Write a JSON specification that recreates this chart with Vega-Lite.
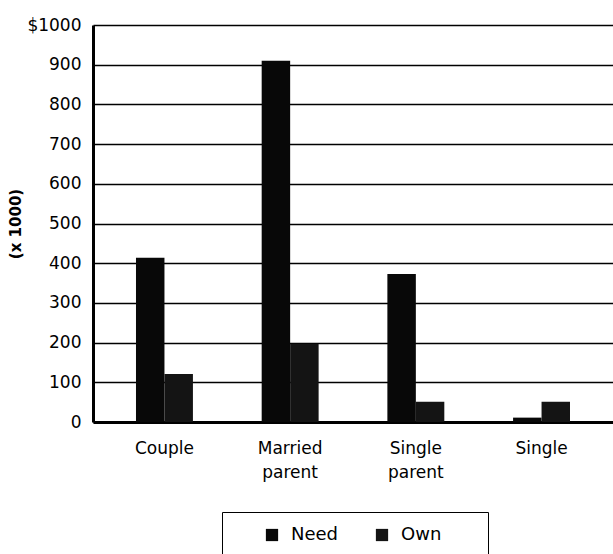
{
  "$schema": "https://vega.github.io/schema/vega-lite/v6.json",
  "width": 520,
  "height": 397,
  "autosize": {"type": "none"},
  "padding": {"left": 93, "top": 25, "right": 0, "bottom": 132},
  "background": "white",
  "config": {
    "view": {"stroke": null},
    "font": "DejaVu Sans"
  },
  "data": {
    "values": [
      {"household": "Couple", "series": "Need", "value": 414},
      {"household": "Couple", "series": "Own", "value": 121},
      {"household": "Married parent", "series": "Need", "value": 910},
      {"household": "Married parent", "series": "Own", "value": 197},
      {"household": "Single parent", "series": "Need", "value": 373},
      {"household": "Single parent", "series": "Own", "value": 51},
      {"household": "Single", "series": "Need", "value": 11},
      {"household": "Single", "series": "Own", "value": 51}
    ]
  },
  "mark": {"type": "bar"},
  "encoding": {
    "x": {
      "field": "household",
      "type": "nominal",
      "sort": ["Couple", "Married parent", "Single parent", "Single"],
      "scale": {"paddingInner": 0.547, "paddingOuter": 0.342, "align": 0.5},
      "axis": {
        "title": null,
        "labelAngle": 0,
        "ticks": false,
        "domainColor": "black",
        "domainWidth": 3,
        "labelColor": "black",
        "labelFontSize": 17,
        "labelPadding": 18,
        "labelLineHeight": 24,
        "labelExpr": "split(datum.label, ' ')"
      }
    },
    "xOffset": {"field": "series", "type": "nominal", "scale": {"paddingInner": 0}},
    "y": {
      "field": "value",
      "type": "quantitative",
      "scale": {"domain": [0, 1000], "nice": false},
      "axis": {
        "title": "(x 1000)",
        "titleFontSize": 15,
        "titleFontWeight": "bold",
        "titleColor": "black",
        "titlePadding": 3,
        "values": [0, 100, 200, 300, 400, 500, 600, 700, 800, 900, 1000],
        "labelExpr": "datum.value == 1000 ? '$1000' : datum.label",
        "ticks": false,
        "labelFontSize": 17,
        "labelColor": "black",
        "labelPadding": 12,
        "domainColor": "black",
        "domainWidth": 3,
        "grid": true,
        "gridColor": "black",
        "gridWidth": 1.3
      }
    },
    "color": {
      "field": "series",
      "type": "nominal",
      "scale": {"domain": ["Need", "Own"], "range": ["#080808", "#141414"]},
      "legend": {
        "title": "\u00a0",
        "titleOrient": "right",
        "titlePadding": 33,
        "titleFontSize": 2,
        "orient": "none",
        "direction": "horizontal",
        "legendX": 129,
        "legendY": 487,
        "strokeColor": "black",
        "fillColor": "white",
        "padding": 14,
        "symbolOffset": 27,
        "symbolType": "square",
        "symbolSize": 150,
        "symbolStrokeWidth": 0,
        "labelFontSize": 18,
        "labelColor": "black",
        "labelOffset": 10,
        "columnPadding": 7
      }
    }
  }
}
